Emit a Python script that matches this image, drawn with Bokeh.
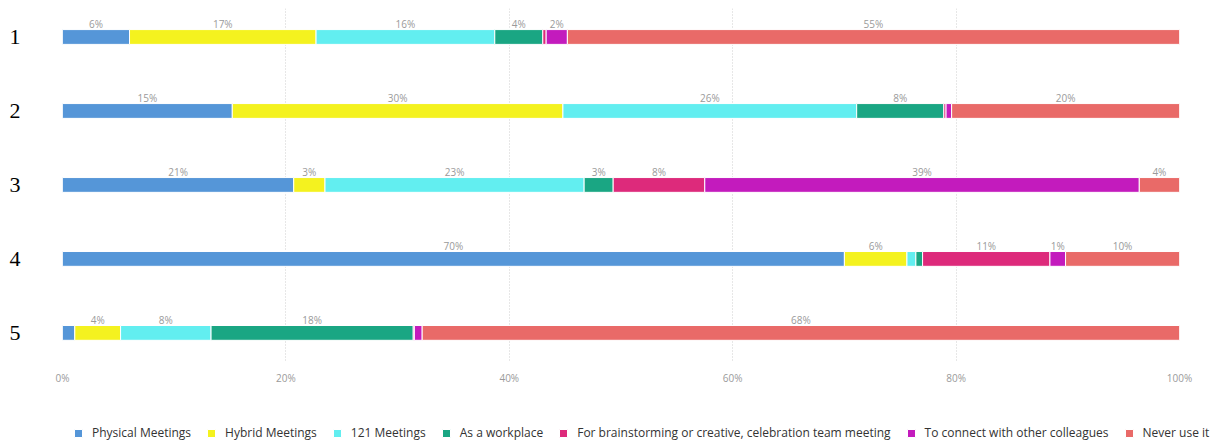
from bokeh.plotting import figure
from bokeh.layouts import column
from bokeh.models import (Range1d, FixedTicker, Legend, LegendItem, ColumnDataSource)
from bokeh.core.properties import value
from bokeh.embed import file_html
from bokeh.resources import INLINE

# ---- data ----
rows = [1, 2, 3, 4, 5]
row_labels = ["1", "2", "3", "4", "5"]
series = ["Physical Meetings", "Hybrid Meetings", "121 Meetings", "As a workplace",
          "For brainstorming or creative, celebration team meeting",
          "To connect with other colleagues", "Never use it"]
physical = [6.0, 15.2, 20.7, 70.0, 1.1]
hybrid = [16.7, 29.6, 2.8, 5.6, 4.1]
one_to_one = [16.0, 26.3, 23.2, 0.8, 8.1]
workplace = [4.3, 7.8, 2.6, 0.6, 18.1]
brainstorm = [0.3, 0.2, 8.2, 11.4, 0.1]
connect = [1.9, 0.5, 38.9, 1.4, 0.7]
never = [54.8, 20.4, 3.6, 10.2, 67.8]
x_ticks = [0, 20, 40, 60, 80, 100]
x_tick_labels = ["0%", "20%", "40%", "60%", "80%", "100%"]
colors = ["#5596d8", "#f4f21f", "#62eef0", "#1aa683", "#dd2a7b", "#c31bbd", "#e96a68"]

keys = ["s0", "s1", "s2", "s3", "s4", "s5", "s6"]
values = [physical, hybrid, one_to_one, workplace, brainstorm, connect, never]
data = {"row": rows}
for k, v in zip(keys, values):
    data[k] = v
source = ColumnDataSource(data)

p = figure(width=1222, height=410, output_backend="svg", toolbar_location=None,
           x_range=Range1d(0, 100), y_range=Range1d(5.4, 0.615),
           min_border_left=62, min_border_right=43, min_border_top=8,
           min_border_bottom=48)
p.outline_line_color = None

p.hbar_stack(keys, y="row", height=0.2, color=colors, source=source,
             line_color="white", line_width=1)

# segment labels
lx, ly, lt = [], [], []
for i, r in enumerate(rows):
    left = 0.0
    for v in values:
        vv = v[i]
        if vv >= 1.4:
            lx.append(left + vv / 2)
            ly.append(r - 0.17)
            lt.append(f"{round(vv)}%")
        left += vv
p.text(x=lx, y=ly, text=lt, text_align="center", text_baseline="alphabetic",
       text_font=value("Open Sans"), text_font_size="10px", text_color="#9a9a9a")

# axes
p.xaxis.ticker = FixedTicker(ticks=x_ticks)
p.xaxis.major_label_overrides = {t: l for t, l in zip(x_ticks, x_tick_labels)}
p.xaxis.axis_line_color = None
p.xaxis.major_tick_line_color = None
p.xaxis.minor_tick_line_color = None
p.xaxis.major_label_text_font = "Open Sans"
p.xaxis.major_label_text_font_size = "10px"
p.xaxis.major_label_text_color = "#9a9a9a"
p.xaxis.major_label_standoff = 2

p.yaxis.ticker = FixedTicker(ticks=rows)
p.yaxis.major_label_overrides = {r: l for r, l in zip(rows, row_labels)}
p.yaxis.axis_line_color = None
p.yaxis.major_tick_line_color = None
p.yaxis.minor_tick_line_color = None
p.yaxis.major_label_text_font = "Liberation Serif"
p.yaxis.major_label_text_font_size = "22px"
p.yaxis.major_label_text_color = "#000000"
p.yaxis.major_label_standoff = 36

p.xgrid.grid_line_color = "#cfcfcf"
p.xgrid.grid_line_dash = "1 2"
p.ygrid.grid_line_color = None

# legend strip (its bars fall outside its own range, only the legend is seen)
pl = figure(width=1222, height=33, output_backend="svg", toolbar_location=None,
            x_range=Range1d(0, 100), y_range=Range1d(20, 21),
            x_axis_type=None, y_axis_type=None,
            min_border_left=0, min_border_right=0, min_border_top=0,
            min_border_bottom=0)
pl.outline_line_color = None
pl.grid.visible = False
leg_renderers = pl.hbar_stack(keys, y="row", height=0.2, color=colors, source=source,
                              line_color="white", line_width=1)
legend = Legend(items=[LegendItem(label=s, renderers=[r]) for s, r in zip(series, leg_renderers)],
                orientation="horizontal", location=(9, 2),
                glyph_width=10, glyph_height=10, label_standoff=9, spacing=15,
                padding=0, margin=0, border_line_color=None, background_fill_alpha=0,
                label_text_font="Open Sans", label_text_font_size="12px",
                label_text_color="#333333")
pl.add_layout(legend, "center")

# let the legend strip use the full width instead of the main plot's frame
try:
    p.frame_align = False
    pl.frame_align = False
    legend.location = (73, 2)
except AttributeError:
    legend.location = (9, 2)

layout = column(p, pl, spacing=0)
open("out.html", "w").write(file_html(layout, INLINE))
